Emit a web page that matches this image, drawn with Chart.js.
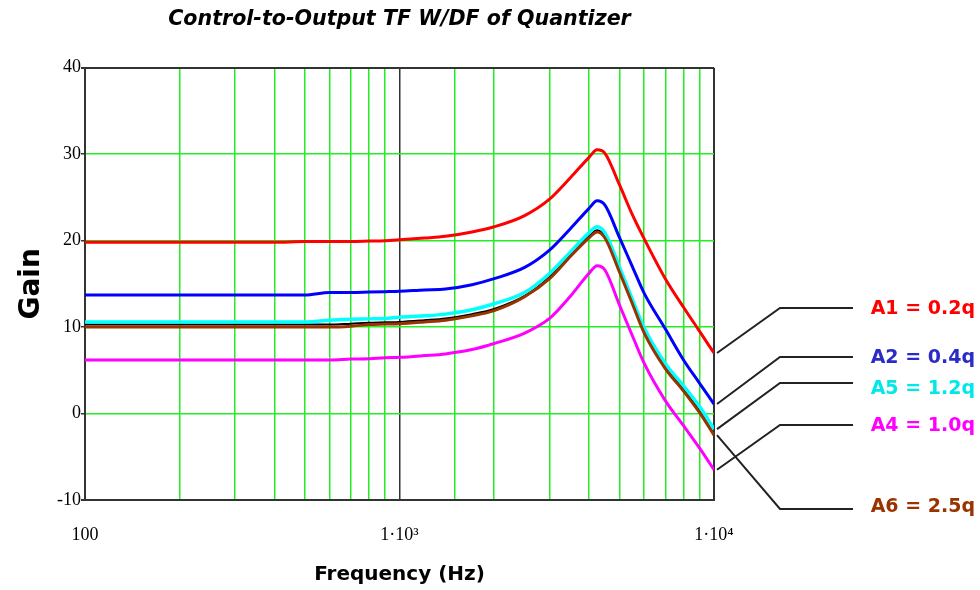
<!DOCTYPE html>
<html>
<head>
<meta charset="utf-8">
<script src="https://cdn.jsdelivr.net/npm/chart.js@4"></script>
<style>
  html, body { margin: 0; padding: 0; background: #fff; }
  #wrap { width: 980px; height: 590px; }
</style>
</head>
<body>
<div id="wrap"><canvas id="myChart" width="980" height="590"></canvas></div>
<script>
// frequencies (Hz) along the log x-axis
var freqs = [100, 150, 200, 300, 400, 500, 600, 700, 800, 900, 1000, 1200, 1400, 1700, 2000, 2500,
             3000, 3500, 4000, 4250, 4500, 5000, 5500, 6000, 7000, 8000, 9000, 10000];
// gain curves, one per quantizer amplitude
var gainA1 = [19.8, 19.8, 19.8, 19.8, 19.8, 19.9, 19.9, 19.9, 19.95, 20.0, 20.1, 20.3, 20.5, 21.0, 21.6, 22.9,
              24.8, 27.3, 29.6, 30.5, 30.1, 26.5, 23.0, 20.2, 15.6, 12.3, 9.5, 7.0];
var gainA2 = [13.7, 13.7, 13.7, 13.7, 13.7, 13.7, 14.0, 14.0, 14.05, 14.1, 14.15, 14.3, 14.4, 14.9, 15.6, 16.9,
              18.9, 21.4, 23.7, 24.6, 24.1, 20.4, 17.0, 13.9, 9.8, 6.2, 3.5, 1.1];
var gainA5 = [10.6, 10.6, 10.6, 10.6, 10.6, 10.6, 10.8, 10.9, 10.95, 11.0, 11.15, 11.3, 11.5, 12.0, 12.7, 14.0,
              16.2, 18.7, 20.9, 21.6, 20.9, 17.0, 13.2, 9.9, 5.8, 3.2, 0.8, -1.8];
var gainA3 = [10.3, 10.3, 10.3, 10.3, 10.3, 10.3, 10.3, 10.4, 10.5, 10.55, 10.6, 10.8, 11.0, 11.5, 12.1, 13.6,
              15.8, 18.4, 20.5, 21.2, 20.5, 16.6, 12.9, 9.5, 5.4, 2.8, 0.3, -2.4];
var gainA6 = [10.0, 10.0, 10.0, 10.0, 10.0, 10.0, 10.0, 10.1, 10.3, 10.35, 10.4, 10.6, 10.8, 11.3, 11.9, 13.5,
              15.6, 18.2, 20.3, 21.0, 20.3, 16.4, 12.7, 9.3, 5.2, 2.6, 0.1, -2.5];
var gainA4 = [6.2, 6.2, 6.2, 6.2, 6.2, 6.2, 6.2, 6.3, 6.35, 6.45, 6.5, 6.7, 6.9, 7.4, 8.1, 9.3,
              11.0, 13.6, 16.2, 17.1, 16.6, 12.6, 9.0, 5.8, 1.5, -1.4, -4.0, -6.5];
// axis tick values / labels
var yTicks = [-10, 0, 10, 20, 30, 40];
var xTickLabels = { 100: '100', 1000: '1\u00b710\u00b3', 10000: '1\u00b710\u2074' };
// labels on the right
var seriesNames = ['A1 = 0.2q', 'A2 = 0.4q', 'A5 = 1.2q', 'A4 = 1.0q', 'A6 = 2.5q'];

// leader line / label placement (pixels) for each name above
var calloutY = [308, 357, 383, 425, 509];
var calloutColors = ['#ff0000', '#2b2bc8', '#00e8e8', '#ff00ff', '#993300'];
var calloutSeries = [0, 1, 3, 5, 2];

function pts(arr) {
  return arr.map(function (v, i) { return { x: freqs[i], y: v }; });
}
function line(data, color, width) {
  return { data: pts(data), borderColor: color, borderWidth: width, pointRadius: 0,
           cubicInterpolationMode: 'monotone', fill: false };
}

var green = '#22ee22';
var frame = '#333333';

var callouts = {
  id: 'callouts',
  afterDraw: function (chart) {
    var c = chart.ctx, area = chart.chartArea, ys = chart.scales.y;
    c.save();
    c.lineWidth = 2;
    c.strokeStyle = '#222';
    c.font = 'bold 19px "DejaVu Sans"';
    c.textAlign = 'right';
    c.textBaseline = 'middle';
    for (var i = 0; i < seriesNames.length; i++) {
      var ds = chart.data.datasets[calloutSeries[i]].data;
      var y0 = ys.getPixelForValue(ds[ds.length - 1].y);
      c.beginPath();
      c.moveTo(area.right + 3, y0);
      c.lineTo(780, calloutY[i]);
      c.lineTo(853, calloutY[i]);
      c.stroke();
      c.fillStyle = calloutColors[i];
      c.fillText(seriesNames[i], 975, calloutY[i] + (i === 2 ? 6 : i === 4 ? -2 : 1));
    }
    c.restore();
  }
};

var ctx = document.getElementById('myChart');
var myChart = new Chart(ctx, {
  type: 'line',
  data: {
    datasets: [
      line(gainA1, '#ff0000', 3),
      line(gainA2, '#0000ff', 3),
      line(gainA6, '#993300', 3),
      line(gainA5, '#00ffff', 3.5),
      line(gainA3, '#000000', 2),
      line(gainA4, '#ff00ff', 3)
    ]
  },
  options: {
    responsive: false,
    animation: false,
    layout: { padding: { left: 0, right: 266, top: 0, bottom: 0 } },
    plugins: {
      legend: { display: false },
      tooltip: { enabled: false },
      title: {
        display: true,
        fullSize: false,
        text: 'Control-to-Output TF W/DF of Quantizer',
        color: '#000',
        font: { family: 'DejaVu Sans', size: 20.6, weight: 'bold', style: 'italic', lineHeight: 1.2 },
        padding: { top: 7, bottom: 36 }
      }
    },
    scales: {
      x: {
        type: 'logarithmic',
        min: 100,
        max: 10000,
        afterFit: function (s) { s.height = 90; },
        border: { display: true, color: frame, width: 2 },
        grid: {
          drawTicks: false,
          color: function (c) {
            var v = c.tick && c.tick.value;
            return (v === 100 || v === 1000 || v === 10000) ? frame : green;
          },
          lineWidth: function (c) {
            var v = c.tick && c.tick.value;
            return (v === 100 || v === 10000) ? 2 : 1.5;
          }
        },
        ticks: {
          autoSkip: false,
          maxRotation: 0,
          padding: 24,
          color: '#000',
          font: { family: 'Liberation Serif', size: 18 },
          callback: function (v) { return xTickLabels[v] || ''; }
        },
        title: {
          display: true,
          text: 'Frequency (Hz)',
          color: '#000',
          font: { family: 'DejaVu Sans', size: 20, weight: 'bold' },
          padding: { top: 0, bottom: 3 }
        }
      },
      y: {
        min: -10,
        max: 40,
        afterFit: function (s) { s.width = 85; },
        afterBuildTicks: function (s) { s.ticks = yTicks.map(function (v) { return { value: v }; }); },
        border: { display: true, color: frame, width: 2 },
        grid: {
          tickLength: 4,
          tickColor: frame,
          color: function (c) {
            var v = c.tick && c.tick.value;
            return (v === 40 || v === -10) ? frame : green;
          },
          lineWidth: function (c) {
            var v = c.tick && c.tick.value;
            return (v === 40 || v === -10) ? 2 : 1.5;
          }
        },
        ticks: {
          padding: 0,
          color: '#000',
          font: { family: 'Liberation Serif', size: 18 }
        },
        title: {
          display: true,
          text: 'Gain',
          color: '#000',
          font: { family: 'DejaVu Sans', size: 28, weight: 'bold' },
          padding: { top: 15, bottom: 0 }
        }
      }
    }
  },
  plugins: [callouts]
});
</script>
</body>
</html>
